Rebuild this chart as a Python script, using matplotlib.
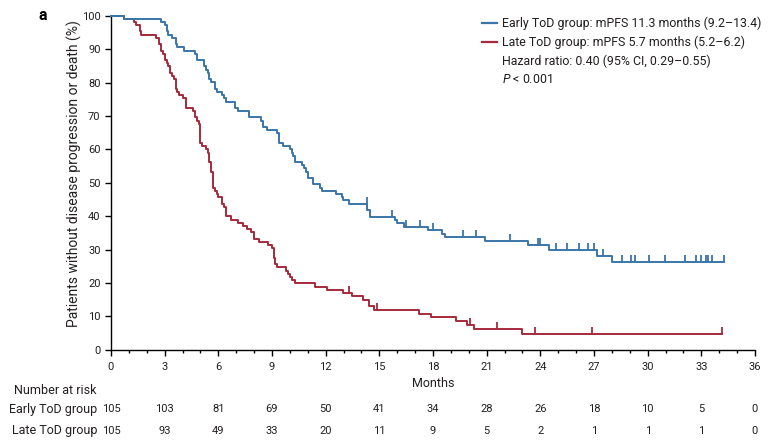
import numpy as np
import matplotlib
matplotlib.use("Agg")
import matplotlib.pyplot as plt
from matplotlib.lines import Line2D
from matplotlib.path import Path
import matplotlib.transforms as mtransforms

# ---------------- data ----------------
early_times = [0.74, 2.81, 3.04, 3.15, 3.20, 3.43, 3.65, 3.71, 4.10, 4.71, 4.82, 5.22, 5.33,
               5.44, 5.49, 5.61, 5.83, 5.94, 6.22, 6.33, 6.44, 6.95, 7.12, 7.73, 8.40, 8.51,
               8.74, 9.30, 9.41, 9.63, 10.02, 10.13, 10.19, 10.30, 10.69, 10.81, 10.92, 11.03,
               11.31, 11.70, 11.81, 12.59, 12.93, 12.99, 13.30, 14.33, 14.49, 15.89, 16.00,
               16.39, 17.74, 18.52, 18.69, 20.92, 23.33, 24.50, 27.18, 28.02]
early_surv = [99.0, 98.1, 97.2, 95.4, 94.2, 93.3, 91.5, 90.6, 89.4, 88.5, 86.7, 84.9, 83.7,
              82.8, 81.0, 80.1, 78.0, 77.1, 76.2, 75.3, 74.1, 72.3, 71.4, 69.6, 68.4, 66.6,
              65.7, 64.8, 61.8, 60.9, 60.0, 58.8, 57.9, 56.1, 55.2, 54.3, 53.1, 51.3,
              49.6, 48.4, 47.5, 46.6, 45.7, 44.8, 43.6, 41.8, 39.7, 38.8, 37.9,
              36.7, 35.8, 34.6, 33.7, 32.5, 31.3, 29.9, 28.0, 26.2]
early_censor = [14.30, 15.72, 16.51, 17.29, 18.02, 19.69, 20.42, 22.32, 23.89, 24.00, 24.89,
                25.51, 26.18, 26.68, 27.02, 27.52, 28.58, 29.09, 29.31, 30.09, 30.98, 32.10,
                32.72, 33.00, 33.28, 33.39, 33.62, 34.28]
early_end = 34.28

late_times = [0.74, 1.30, 1.41, 1.64, 1.69, 2.53, 2.70, 2.81, 2.92, 3.04, 3.15, 3.20, 3.31,
              3.43, 3.54, 3.65, 3.71, 3.82, 4.04, 4.21, 4.60, 4.71, 4.82, 4.94, 4.99, 5.10,
              5.33, 5.44, 5.49, 5.61, 5.72, 5.83, 5.94, 6.00, 6.22, 6.33, 6.44, 6.72, 7.12,
              7.40, 7.62, 7.84, 8.01, 8.29, 8.79, 9.02, 9.13, 9.18, 9.30, 9.80, 9.91, 10.02,
              10.13, 10.30, 11.42, 12.09, 12.99, 13.49, 14.10, 14.44, 14.72, 17.23, 17.90,
              19.30, 19.92, 20.31, 22.99]
late_surv = [99.0, 98.1, 97.2, 95.4, 94.2, 93.3, 91.5, 89.4, 88.5, 86.7, 85.8, 84.9, 82.8,
             81.9, 81.0, 78.0, 77.1, 76.2, 75.3, 72.3, 71.4, 69.6, 68.4, 67.5, 61.8, 60.9,
             60.0, 58.8, 56.1, 53.1, 48.4, 47.5, 46.6, 45.7, 43.6, 42.7, 40.0, 38.8, 37.9,
             37.0, 36.1, 35.2, 33.1, 32.2, 31.3, 30.4, 27.4, 25.6, 24.7, 23.5, 22.6, 21.7,
             20.8, 19.9, 18.7, 17.8, 16.9, 16.0, 14.8, 13.0, 11.8, 10.6, 9.7,
             8.5, 7.3, 6.1, 4.6]
late_censor = [13.32, 14.89, 20.08, 21.59, 23.72, 26.90, 34.17]
late_end = 34.17

risk_times = [0, 3, 6, 9, 12, 15, 18, 21, 24, 27, 30, 33, 36]
risk_early = [105, 103, 81, 69, 50, 41, 34, 28, 26, 18, 10, 5, 0]
risk_late = [105, 93, 49, 33, 20, 11, 9, 5, 2, 1, 1, 1, 0]

groups = ["Early ToD group", "Late ToD group"]
legend_labels = ["Early ToD group: mPFS 11.3 months (9.2\u201313.4)",
                 "Late ToD group: mPFS 5.7 months (5.2\u20136.2)",
                 "Hazard ratio: 0.40 (95% CI, 0.29\u20130.55)",
                 r"$P$ < 0.001"]

# ---------------- style ----------------
TXT = "#231f20"
BLUE = "#3a75a8"
RED = "#a62a3b"
plt.rcParams["font.family"] = ["Roboto", "DejaVu Sans"]
plt.rcParams["mathtext.fontset"] = "custom"
plt.rcParams["mathtext.it"] = "Roboto:italic"
plt.rcParams["mathtext.rm"] = "Roboto"
plt.rcParams["text.color"] = TXT

W, H = 776, 447
fig = plt.figure(figsize=(W / 100, H / 100), dpi=100)
x0, x1, ytop, ybot = 111, 755, 15.7, 349.8
ax = fig.add_axes([x0 / W, (H - ybot) / H, (x1 - x0) / W, (ybot - ytop) / H])


def step_arrays(times, surv, end):
    t = np.concatenate([[0.0], np.asarray(times, float), [end]])
    s = np.concatenate([[100.0], np.asarray(surv, float), [surv[-1]]])
    return t, s


def level_at(times, surv, q):
    idx = np.searchsorted(np.asarray(times), np.asarray(q), side="right")
    s = np.concatenate([[100.0], np.asarray(surv, float)])
    return s[idx]


tick_marker = Path([(0, 0), (0, 1)])
for times, surv, cens, end, col in [(late_times, late_surv, late_censor, late_end, RED),
                                    (early_times, early_surv, early_censor, early_end, BLUE)]:
    t, s = step_arrays(times, surv, end)
    ax.step(t, s, where="post", color=col, lw=1.4, clip_on=False, zorder=3)
    ax.plot(cens, level_at(times, surv, cens), linestyle="none", marker=tick_marker,
            ms=10, mew=1.3, color=col, clip_on=False, zorder=3)

ax.set_xlim(0, 36)
ax.set_ylim(0, 100)
ax.set_xticks(np.arange(0, 37, 3))
ax.set_xticks(np.arange(0, 37, 1), minor=True)
ax.set_yticks(np.arange(0, 101, 10))
for side in ["top", "right"]:
    ax.spines[side].set_visible(False)
for side in ["left", "bottom"]:
    ax.spines[side].set_linewidth(1.0)
    ax.spines[side].set_color("black")
ax.tick_params(axis="both", which="major", direction="out", length=4.5, width=1.0,
               labelsize=8, labelcolor=TXT, pad=3)
ax.tick_params(axis="x", which="major", pad=4.5)
ax.tick_params(axis="x", which="minor", direction="out", length=2.2, width=1.0)
ax.set_xlabel("Months", fontsize=9, color=TXT, labelpad=3.5)
ax.set_ylabel("Patients without disease progression or death (%)", fontsize=10,
              color=TXT, labelpad=3)
ax.yaxis.set_label_coords(-0.045, 0.527)

handles = [Line2D([], [], color=BLUE, lw=1.6), Line2D([], [], color=RED, lw=1.6),
           Line2D([], [], color="none"), Line2D([], [], color="none")]
leg = ax.legend(handles, legend_labels, loc="upper left",
                bbox_to_anchor=(482 / W, (H - 17) / H), bbox_transform=fig.transFigure,
                frameon=False, fontsize=8.9, handlelength=1.2, handletextpad=0.45,
                labelspacing=0.42, borderpad=0, borderaxespad=0)
for txt in leg.get_texts():
    txt.set_color(TXT)

fig.text(43 / W, (H - 15) / H, "a", fontsize=11.5, fontweight="bold", ha="center",
         va="center", color="black")

blend = mtransforms.blended_transform_factory(ax.transData, fig.transFigure)
label_x = 97 / W
fig.text(label_x, (H - 390) / H, "Number at risk", ha="right", va="center", fontsize=9)
row_y = [409.5, 430.5]
for name, vals, yy in zip(groups, [risk_early, risk_late], row_y):
    fig.text(label_x, (H - yy) / H, name, ha="right", va="center", fontsize=9)
    for t, v in zip(risk_times, vals):
        ax.text(t, (H - yy) / H, str(v), transform=blend, ha="center", va="center",
                fontsize=8, color=TXT)

fig.savefig("out.png", dpi=100)
